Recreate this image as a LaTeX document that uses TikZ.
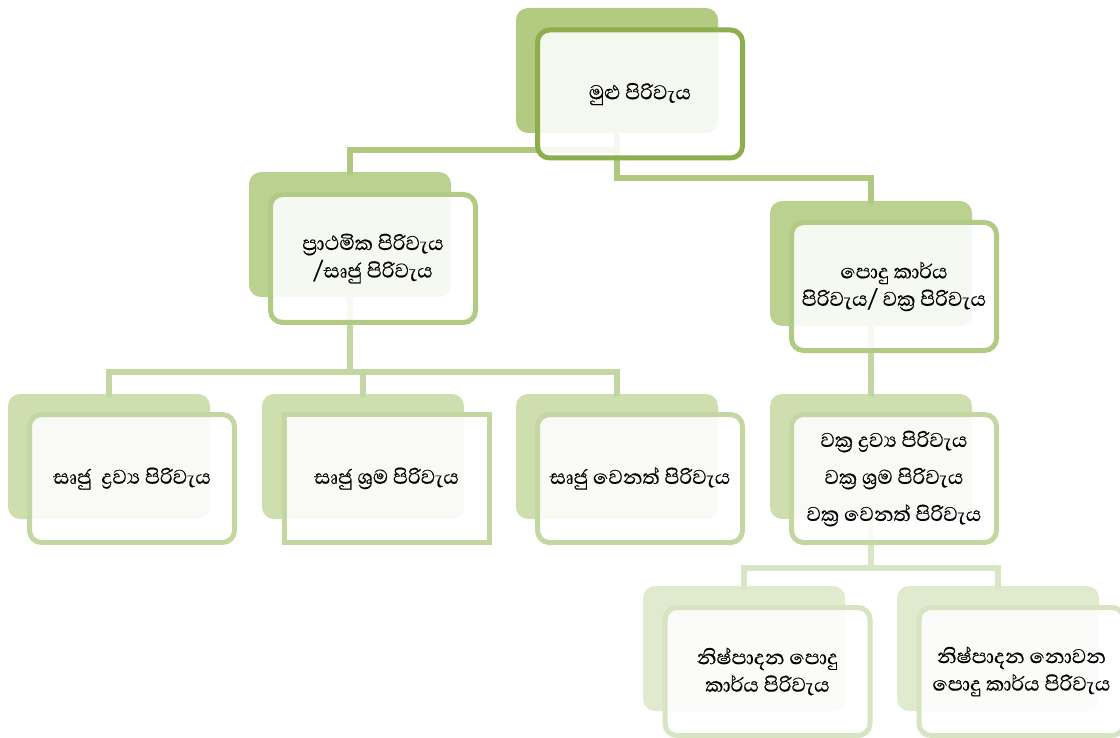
\documentclass[tikz,border=0pt]{standalone}
\usepackage{fontspec}
\newfontfamily\sinhalafont[Script=Sinhala,FakeBold=0.4]{Abhaya Libre}
\definecolor{bkA}{HTML}{B3CB80}
\definecolor{brA}{HTML}{8DAD4F}
\definecolor{bkB}{HTML}{BBD190}
\definecolor{brB}{HTML}{B2CB84}
\definecolor{bkC}{HTML}{CEDEAE}
\definecolor{brC}{HTML}{C4D7A2}
\definecolor{bkD}{HTML}{E0EACE}
\definecolor{brD}{HTML}{D7E4C2}
\definecolor{lnA}{HTML}{B0C97E}
\definecolor{lnB}{HTML}{C4D7A3}
\definecolor{lnC}{HTML}{D9E5C7}
\tikzset{
  backbox/.style={rectangle, rounded corners=12pt, draw=none, minimum width=202pt, minimum height=125pt, inner sep=0pt},
  frontbox/.style={rectangle, rounded corners=12pt, line width=5pt, fill=white, fill opacity=0.88, text opacity=1,
    minimum width=205pt, minimum height=128pt, inner sep=2pt, align=center, font=\sinhalafont\fontsize{25.5}{27.5}\selectfont},
  conn/.style={line width=6.5pt, line cap=rect, line join=miter}
}
\begin{document}
\begin{tikzpicture}[x=1pt,y=-1pt]
\useasboundingbox (0,0) rectangle (1120,738);
\clip (0,0) rectangle (1120,738);
% back rectangles
\node[backbox, fill=bkA] (topback) at (617,70.5) {};
\node[backbox, fill=bkB] (plback) at (350,234.5) {};
\node[backbox, fill=bkB] (prback) at (871,263.5) {};
\node[backbox, fill=bkC] (aback) at (109,456.5) {};
\node[backbox, fill=bkC] (bback) at (363,456.5) {};
\node[backbox, fill=bkC] (cback) at (617,456.5) {};
\node[backbox, fill=bkC] (dback) at (871,456.5) {};
\node[backbox, fill=bkD] (eback) at (744,648.5) {};
\node[backbox, fill=bkD] (fback) at (998,648.5) {};
% connectors
\draw[conn, lnA] (topback.south) -- ++(0,17) -| (plback.north);
\draw[conn, lnA] (topback.south) -- ++(0,45) -| (prback.north);
\draw[conn, lnB] (plback.south) -- ++(0,75) -| (aback.north);
\draw[conn, lnB] (plback.south) -- ++(0,75) -| (bback.north);
\draw[conn, lnB] (plback.south) -- ++(0,75) -| (cback.north);
\draw[conn, lnB] (prback.south) -- (dback.north);
\draw[conn, lnC] (dback.south) -- ++(0,49) -| (eback.north);
\draw[conn, lnC] (dback.south) -- ++(0,49) -| (fback.north);
% front boxes
\node[frontbox, draw=brA] (top) at (640,94) {මුළු පිරිවැය};
\node[frontbox, draw=brB] (pl) at (373,258.5) {ප්‍රාථමික පිරිවැය\\/සෘජු පිරිවැය};
\node[frontbox, draw=brB] (pr) at (894,286.5) {පොදු කාර්ය\\පිරිවැය/ වක්‍ර පිරිවැය};
\node[frontbox, draw=brC] (a) at (132,478.5) {සෘජු\ \ ද්‍රව්‍ය පිරිවැය};
\node[frontbox, draw=brC, sharp corners] (b) at (386.5,478.5) {සෘජු ශ්‍රම පිරිවැය};
\node[frontbox, draw=brC] (c) at (640,478.5) {සෘජු වෙනත් පිරිවැය};
\node[frontbox, draw=brC, font=\sinhalafont\fontsize{25.5}{37}\selectfont] (d) at (894,478.5) {වක්‍ර ද්‍රව්‍ය පිරිවැය\\වක්‍ර ශ්‍රම පිරිවැය\\වක්‍ර වෙනත් පිරිවැය};
\node[frontbox, draw=brD] (e) at (767.5,671.5) {නිෂ්පාදන පොදු\\කාර්ය පිරිවැය};
\node[frontbox, draw=brD] (f) at (1021.5,671.5) {නිෂ්පාදන නොවන\\පොදු කාර්ය පිරිවැය};
\end{tikzpicture}
\end{document}
